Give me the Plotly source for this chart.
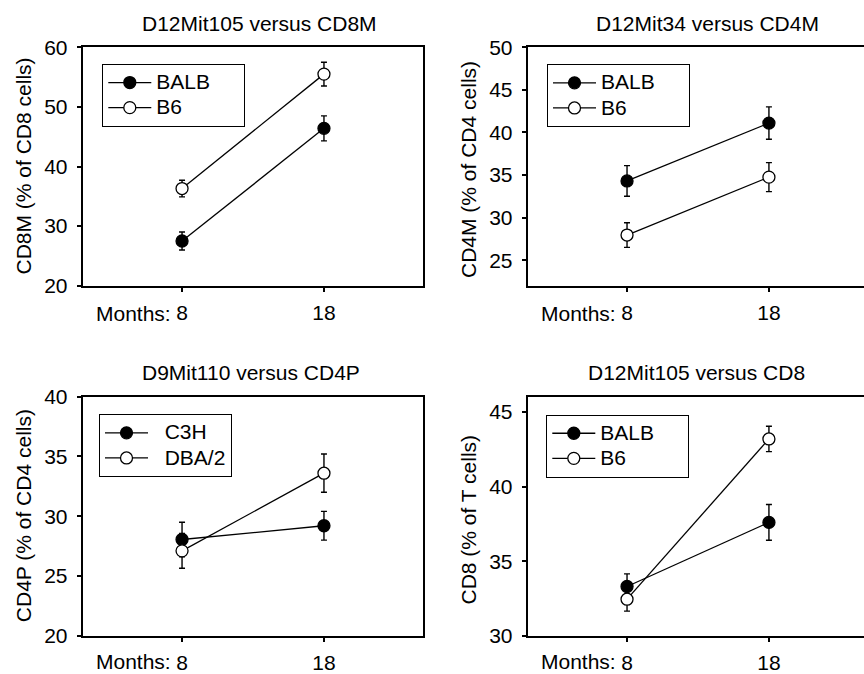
import plotly.graph_objects as go

# ---------------- data ----------------
months = [8, 18]
month_labels = ["8", "18"]

# Panel 1: D12Mit105 versus CD8M
p1_balb = [27.5, 46.4]
p1_balb_err = [1.5, 2.1]
p1_b6 = [36.3, 55.5]
p1_b6_err = [1.4, 2.0]

# Panel 2: D12Mit34 versus CD4M
p2_balb = [34.3, 41.1]
p2_balb_err = [1.8, 1.9]
p2_b6 = [27.95, 34.75]
p2_b6_err = [1.45, 1.7]

# Panel 3: D9Mit110 versus CD4P
p3_c3h = [28.05, 29.2]
p3_c3h_err = [1.45, 1.2]
p3_dba = [27.1, 33.6]
p3_dba_err = [1.45, 1.6]

# Panel 4: D12Mit105 versus CD8
p4_balb = [33.3, 37.6]
p4_balb_err = [0.85, 1.2]
p4_b6 = [32.45, 43.2]
p4_b6_err = [0.8, 0.85]

titles = ["D12Mit105 versus CD8M", "D12Mit34 versus CD4M",
          "D9Mit110 versus CD4P", "D12Mit105 versus CD8"]
ylabels = ["CD8M (% of CD8 cells)", "CD4M (% of CD4 cells)",
           "CD4P (% of CD4 cells)", "CD8 (% of T cells)"]

# ---------------- style ----------------
W, H = 864, 674
FONT = "Liberation Sans, Arial, Helvetica, sans-serif"
FS = 21
NB = "\u00a0"


def px_x(p):
    return p / W


def px_y(p):
    return 1 - p / H


def leg_name(name, lead=0, trail=0):
    return ('<span style="font-size:%dpx">' % FS) + NB * lead + name + NB * trail + "</span>"


fig = go.Figure()


def add_series(name, y, err, filled, axis_n, legend):
    xa = "x" if axis_n == 1 else f"x{axis_n}"
    ya = "y" if axis_n == 1 else f"y{axis_n}"
    fig.add_trace(go.Scatter(
        x=months, y=y, name=name, mode="lines+markers",
        xaxis=xa, yaxis=ya, legend=legend,
        line=dict(color="black", width=1.3),
        marker=dict(symbol="circle", size=12,
                    color="black" if filled else "white",
                    line=dict(color="black", width=1.3)),
        error_y=dict(type="data", array=err, visible=True,
                     color="black", thickness=1.4, width=3),
        cliponaxis=False, hoverinfo="skip",
    ))


add_series(leg_name("BALB", 0, 5), p1_balb, p1_balb_err, True, 1, "legend")
add_series(leg_name("B6", 0, 5), p1_b6, p1_b6_err, False, 1, "legend")
add_series(leg_name("BALB", 0, 5), p2_balb, p2_balb_err, True, 2, "legend2")
add_series(leg_name("B6", 0, 5), p2_b6, p2_b6_err, False, 2, "legend2")
add_series(leg_name("C3H", 2, 0), p3_c3h, p3_c3h_err, True, 3, "legend3")
add_series(leg_name("DBA/2", 2, 0), p3_dba, p3_dba_err, False, 3, "legend3")
add_series(leg_name("BALB", 0, 5), p4_balb, p4_balb_err, True, 4, "legend4")
add_series(leg_name("B6", 0, 5), p4_b6, p4_b6_err, False, 4, "legend4")

# panel geometry in pixels (left, right, top, bottom)
geo = [
    (82.7, 423.3, 47.3, 285.7),
    (527.7, 864.0, 47.3, 285.7),
    (82.7, 423.3, 396.7, 635.7),
    (527.7, 864.0, 397.2, 635.7),
]
xranges = [[1, 25], [1, 24.7], [1, 25], [1, 24.7]]
yranges = [[20, 60], [22, 50], [20, 40], [30, 46]]
ydticks = [10, 5, 5, 5]
ytick0 = [20, 25, 20, 30]

axis_common = dict(showline=True, linecolor="black", linewidth=2,
                   ticks="outside", ticklen=4, tickwidth=1.5, tickcolor="black",
                   showgrid=False, zeroline=False, automargin=False,
                   fixedrange=True,
                   tickfont=dict(family=FONT, size=FS, color="black"))

layout = {}
for i in range(4):
    n = i + 1
    l, r, t, b = geo[i]
    xk = "xaxis" if n == 1 else f"xaxis{n}"
    yk = "yaxis" if n == 1 else f"yaxis{n}"
    ya = "y" if n == 1 else f"y{n}"
    xa = "x" if n == 1 else f"x{n}"
    layout[xk] = dict(axis_common, domain=[px_x(l), min(px_x(r), 1.0)],
                      range=xranges[i], tickmode="array",
                      tickvals=months, ticktext=month_labels,
                      anchor=ya, mirror=True, ticklabelstandoff=3)
    layout[yk] = dict(axis_common, domain=[px_y(b), px_y(t)],
                      range=yranges[i], tick0=ytick0[i], dtick=ydticks[i],
                      anchor=xa, mirror=(n in (1, 3)), ticklabelstandoff=5)

fig.update_layout(**layout)

# legends
leg_pos = [(102.3, 64.0), (547.0, 64.3), (99.0, 414.3), (546.3, 414.7)]
for i, (lx, ly) in enumerate(leg_pos):
    key = "legend" if i == 0 else f"legend{i + 1}"
    fig.update_layout(**{key: dict(
        x=px_x(lx), y=px_y(ly), xanchor="left", yanchor="top",
        bgcolor="white", bordercolor="black", borderwidth=1,
        font=dict(family=FONT, size=17, color="black"),
        tracegroupgap=0, itemclick=False, itemdoubleclick=False, itemwidth=43,
    )})

annotations = []
title_pos = [(259, 23), (707.7, 23), (251, 372.5), (696.5, 372.5)]
for i, (tx, ty) in enumerate(title_pos):
    annotations.append(dict(text=titles[i], x=px_x(tx), y=px_y(ty),
                            xref="paper", yref="paper", showarrow=False,
                            xanchor="center", yanchor="middle",
                            font=dict(family=FONT, size=FS, color="black")))
ylab_pos = [(23, 166.5), (468, 169), (23, 516.2), (468, 519.5)]
for i, (tx, ty) in enumerate(ylab_pos):
    annotations.append(dict(text=ylabels[i], x=px_x(tx), y=px_y(ty),
                            xref="paper", yref="paper", showarrow=False,
                            textangle=-90, xanchor="center", yanchor="middle",
                            font=dict(family=FONT, size=FS, color="black")))
months_y = [313, 313, 661, 661]
for i in range(4):
    n = i + 1
    xa = "x" if n == 1 else f"x{n}"
    annotations.append(dict(text="Months:", x=months[0], y=px_y(months_y[i]),
                            xref=xa, yref="paper", showarrow=False,
                            xanchor="right", yanchor="middle", xshift=-10,
                            borderpad=0,
                            font=dict(family=FONT, size=FS, color="black")))

fig.update_layout(annotations=annotations, width=W, height=H,
                  margin=dict(l=0, r=0, t=0, b=0, pad=0, autoexpand=False),
                  paper_bgcolor="white", plot_bgcolor="white",
                  showlegend=True, hovermode=False, dragmode=False)

fig.write_html("out.html",
               config={"displayModeBar": False, "staticPlot": False},
               post_script="document.body.style.margin='0px';"
                           "document.body.style.overflow='hidden';")
